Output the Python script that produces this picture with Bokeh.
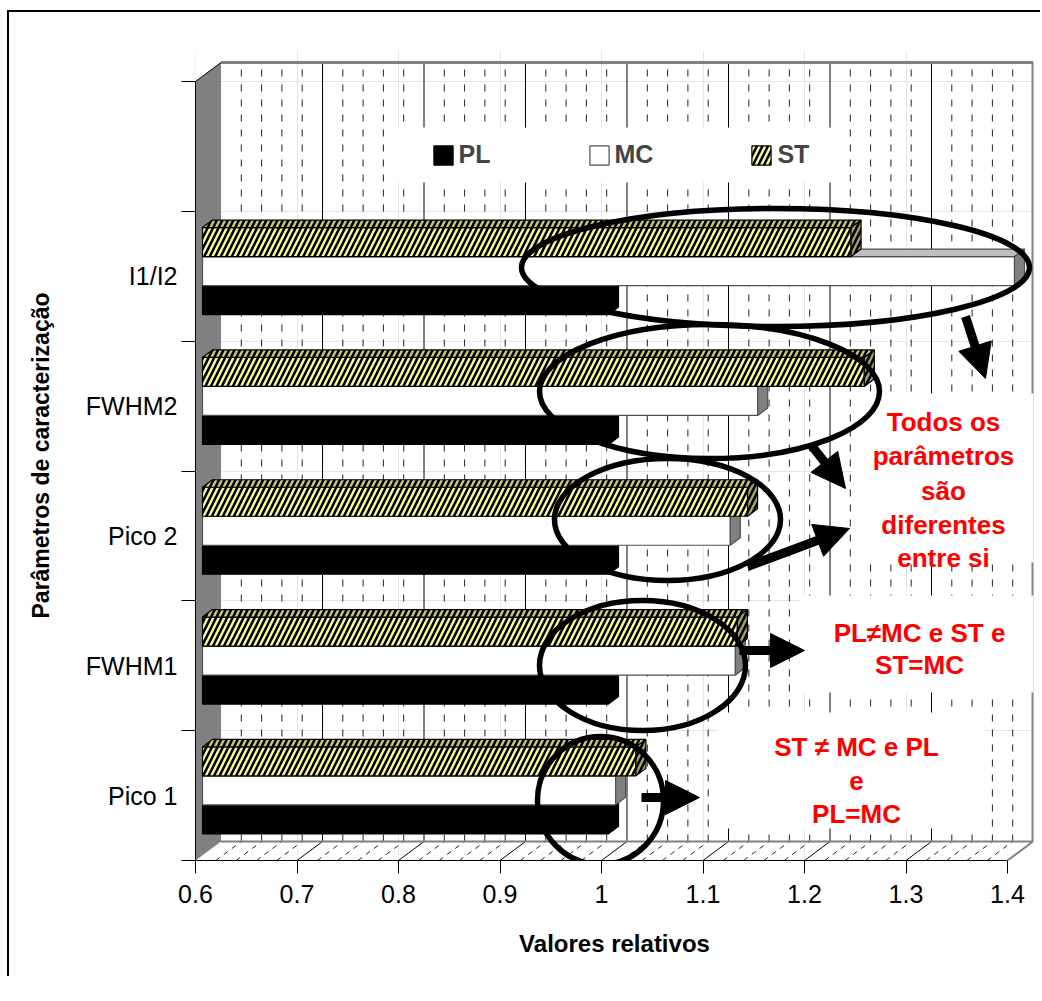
import numpy as np
from bokeh.plotting import figure
from bokeh.models import (ColumnDataSource, FixedTicker, LinearAxis, Range1d,
                          Legend, LegendItem, Arrow, NormalHead)
from bokeh.embed import file_html
from bokeh.resources import INLINE
from bokeh.core.properties import value

# ---------------- data ----------------
categories = ["Pico 1", "FWHM1", "Pico 2", "FWHM2", "I1/I2"]
pl = [1.0, 1.0, 1.0, 1.0, 1.0]
mc = [1.007, 1.125, 1.12, 1.147, 1.40]
st = [1.027, 1.127, 1.137, 1.252, 1.239]
series_names = ["PL", "MC", "ST"]
x_ticks = [0.6, 0.7, 0.8, 0.9, 1.0, 1.1, 1.2, 1.3, 1.4]
x_tick_labels = ["0.6", "0.7", "0.8", "0.9", "1", "1.1", "1.2", "1.3", "1.4"]

note1 = ["Todos os", "parâmetros", "são", "diferentes", "entre si"]
note2 = ["PL≠MC e ST e", "ST=MC"]
note3 = ["ST ≠ MC e PL", "e", "PL=MC"]

# ---------------- geometry (pixels -> data units) ----------------
FONT = "Liberation Sans"
XPX = 1015.0          # px per x unit
YPX = 129.83          # px per category slot
FRAME_W = 838
FRAME_H = 810
X0, X1 = x_ticks[0], x_ticks[-1]
NSLOT = len(categories) + 1
WDX = 25.5 / XPX      # wall depth
WDY = 19.0 / YPX
BDX = 7.0 / XPX       # bar position in depth
BDY = 5.2 / YPX
DDX = 10.0 / XPX      # bar depth
DDY = 7.5 / YPX
BH = 29.0 / YPX       # bar thickness


def px_x(px):
    return X0 + (px - 196) / XPX


def px_y(py):
    return (860 - py) / YPX


p = figure(width=1033, height=966,
           x_range=Range1d(X0, X0 + FRAME_W / XPX),
           y_range=Range1d(0, FRAME_H / YPX),
           min_border_left=186, min_border_right=9,
           min_border_top=38, min_border_bottom=118,
           x_axis_location=None, y_axis_location=None,
           toolbar_location=None, output_backend="svg")
p.outline_line_color = None
p.background_fill_color = "white"
p.border_fill_color = "white"
p.styles = {"position": "relative", "left": "7px", "top": "10px",
            "border-left": "2px solid black", "border-top": "2px solid black"}

# ---------------- walls / floor ----------------
p.patch([X0, X0 + WDX, X0 + WDX, X0], [0, WDY, NSLOT + WDY, NSLOT],
        fill_color="#808080", line_color=None)
p.line([X0, X0 + WDX], [NSLOT, NSLOT + WDY], line_color="black", line_width=1)

minor = [round(v, 2) for v in np.arange(X0 + 0.02, X1, 0.02)
         if abs(round(v * 10) - v * 10) > 1e-6]
major = [t for t in x_ticks[1:-1]]
p.segment(x0=[v + WDX for v in minor], y0=[WDY] * len(minor),
          x1=[v + WDX for v in minor], y1=[NSLOT + WDY] * len(minor),
          line_color="#222222", line_width=1, line_dash="7 8")
p.segment(x0=[v + WDX for v in major], y0=[WDY] * len(major),
          x1=[v + WDX for v in major], y1=[NSLOT + WDY] * len(major),
          line_color="black", line_width=1)
p.segment(x0=minor, y0=[0] * len(minor), x1=[v + WDX for v in minor],
          y1=[WDY] * len(minor), line_color="#222222", line_width=1,
          line_dash="5 5")
p.segment(x0=major, y0=[0] * len(major), x1=[v + WDX for v in major],
          y1=[WDY] * len(major), line_color="black", line_width=1)

p.line([X0 + WDX, X1 + WDX, X1 + WDX], [NSLOT + WDY, NSLOT + WDY, WDY],
       line_color="#808080", line_width=3)
p.line([X0 + WDX, X1 + WDX, X1], [WDY, WDY, 0],
       line_color="#808080", line_width=2)

# white boxes behind legend and notes
p.quad(left=[px_x(392), px_x(852), px_x(800), px_x(718)],
       right=[px_x(845), px_x(1040), px_x(1040), px_x(985)],
       bottom=[px_y(182), px_y(562), px_y(692), px_y(828)],
       top=[px_y(127), px_y(393), px_y(595), px_y(712)],
       fill_color="white", line_color=None)

# ---------------- 3D bars ----------------
styles = {
    "PL": dict(front="black", top="black", side="black", line="black", hatch=None),
    "MC": dict(front="white", top="#C0C0C0", side="#808080", line="#505050", hatch=None),
    "ST": dict(front="#FFFF99", top="#CCCC77", side="#A3A366", line="black", hatch="/"),
}
front_renderers = {}
for k, (name, vals) in enumerate(zip(series_names, [pl, mc, st])):
    s = styles[name]
    n = len(vals)
    yc = [i + 0.5 + (k - 1) * BH + BDY for i in range(n)]
    left = [X0 + BDX] * n
    right = [v + BDX for v in vals]
    top = [y + BH / 2 for y in yc]
    bot = [y - BH / 2 for y in yc]
    hatch_kw = {}
    if s["hatch"]:
        hatch_kw = dict(hatch_pattern=s["hatch"], hatch_color="black",
                        hatch_scale=11, hatch_weight=2.6)
    src = ColumnDataSource(dict(y=yc, left=left, right=right,
                                cat=categories, val=vals))
    r = p.hbar(y="y", left="left", right="right", height=BH, source=src,
               fill_color=s["front"], line_color=s["line"], line_width=1.2,
               **hatch_kw)
    front_renderers[name] = r
    top_xs = [[l, l + DDX, rr + DDX, rr] for l, rr in zip(left, right)]
    top_ys = [[t, t + DDY, t + DDY, t] for t in top]
    p.patches(top_xs, top_ys, fill_color=s["top"], line_color=s["line"],
              line_width=1.2, **hatch_kw)
    side_xs = [[rr, rr + DDX, rr + DDX, rr] for rr in right]
    side_ys = [[b, b + DDY, t + DDY, t] for b, t in zip(bot, top)]
    p.patches(side_xs, side_ys, fill_color=s["side"], line_color=s["line"],
              line_width=1.2, **hatch_kw)

# ---------------- annotations: ellipses, arrows, notes ----------------
p.ellipse(x=[px_x(776), px_x(710), px_x(668), px_x(643), px_x(601)],
          y=[px_y(267), px_y(391), px_y(519), px_y(665), px_y(800)],
          width=[508 / XPX, 340 / XPX, 226 / XPX, 206 / XPX, 126 / XPX],
          height=[118 / YPX, 134 / YPX, 122 / YPX, 130 / YPX, 128 / YPX],
          fill_color=None, line_color="black", line_width=5.5)

arrows = [((966, 316), (986, 378)), ((812, 445), (846, 488)),
          ((748, 566), (850, 528)), ((740, 650), (805, 650)),
          ((642, 797), (700, 797))]
for (sx, sy), (ex, ey) in arrows:
    p.add_layout(Arrow(end=NormalHead(size=34, fill_color="black",
                                      line_color="black"),
                       x_start=px_x(sx), y_start=px_y(sy),
                       x_end=px_x(ex), y_end=px_y(ey),
                       line_width=9, line_color="black"))

note_x = [px_x(944)] * 5 + [px_x(920)] * 2 + [px_x(857)] * 3
note_y = [px_y(v) for v in (421, 455, 490, 524, 557, 632, 664, 746, 780, 813)]
p.text(x=note_x, y=note_y, text=note1 + note2 + note3,
       text_font=value(FONT), text_font_style="bold", text_font_size="26px",
       text_color="#FF0000", text_align="center", text_baseline="alphabetic")

# ---------------- axes ----------------
xaxis = LinearAxis(ticker=FixedTicker(ticks=x_ticks), bounds=(X0, X1),
                   major_label_overrides={t: l for t, l in zip(x_ticks, x_tick_labels)},
                   axis_label="Valores relativos")
xaxis.major_tick_out = 13
xaxis.major_tick_in = 0
xaxis.minor_tick_out = 0
xaxis.major_label_standoff = 11
xaxis.axis_label_standoff = 24
xaxis.major_label_text_font = FONT
xaxis.major_label_text_font_size = "25px"
xaxis.major_label_text_color = "black"
xaxis.axis_label_text_font = FONT
xaxis.axis_label_text_font_size = "24px"
xaxis.axis_label_text_font_style = "bold"
xaxis.axis_label_text_color = "black"
xaxis.axis_line_color = "black"
p.add_layout(xaxis, "below")

centers = [i + 0.5 for i in range(len(categories))]
yaxis = LinearAxis(ticker=FixedTicker(ticks=centers,
                                      minor_ticks=list(range(NSLOT + 1))),
                   bounds=(0, NSLOT),
                   major_label_overrides={c: n for c, n in zip(centers, categories)},
                   axis_label="Parâmetros de caracterização")
yaxis.major_tick_out = 0
yaxis.major_tick_in = 0
yaxis.minor_tick_out = 14
yaxis.minor_tick_in = 0
yaxis.minor_tick_line_color = "black"
yaxis.major_label_standoff = 4
yaxis.axis_label_standoff = 29
yaxis.major_label_orientation = "horizontal"
yaxis.major_label_text_font = FONT
yaxis.major_label_text_font_size = "25px"
yaxis.major_label_text_color = "black"
yaxis.axis_label_text_font = FONT
yaxis.axis_label_text_font_size = "23px"
yaxis.axis_label_text_font_style = "bold"
yaxis.axis_label_text_color = "black"
yaxis.axis_line_color = "black"
p.add_layout(yaxis, "left")

# ---------------- legend ----------------
legend = Legend(items=[LegendItem(label=n, renderers=[front_renderers[n]])
                       for n in series_names],
                orientation="horizontal", location=(235.6, 691),
                padding=0, margin=0, spacing=96, label_standoff=4,
                glyph_width=24, glyph_height=24,
                background_fill_alpha=0, border_line_color=None,
                label_text_font=FONT, label_text_font_size="25px",
                label_text_font_style="bold")
p.add_layout(legend)

open("out.html", "w").write(file_html(p, INLINE))
